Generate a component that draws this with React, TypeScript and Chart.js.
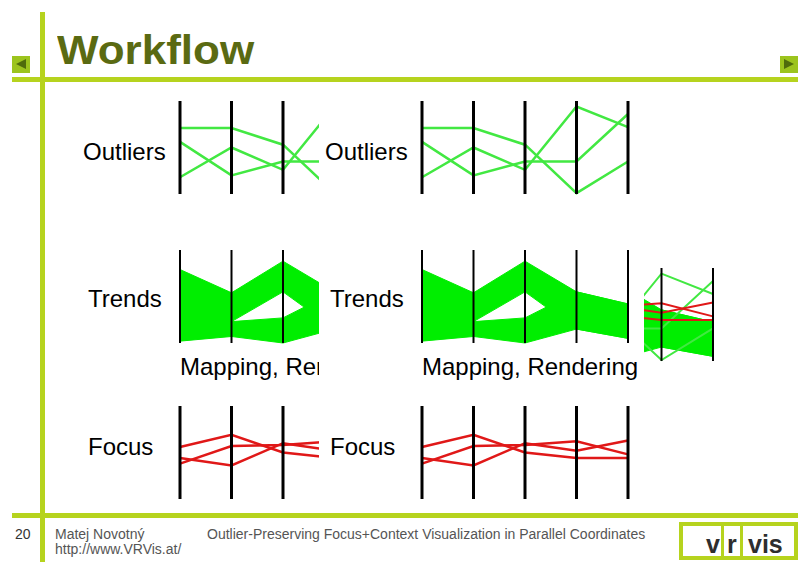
import React, { useEffect, useRef } from "react";
import { Chart, registerables } from "chart.js";
Chart.register(...registerables);

// ---- data: values (0-100) on each parallel axis ----
const axisIndex = [0, 1, 2, 3, 4];
const outlierLine1 = [71, 71, 53, 1, 35];
const outlierLine2 = [56, 20, 35, 35, 86];
const outlierLine3 = [18, 50, 26, 94, 72];
const trendUpperTop = [79, 54, 88, 55, 42];
const trendUpperBottom = [22, 23, 55, 15, 5];
const trendLowerTop = [57, 23, 27, 55, 42];
const trendLowerBottom = [2, 7, 0, 15, 5];
const focusLine1 = [56, 69, 50, 44, 44];
const focusLine2 = [38, 57, 58, 62, 48];
const focusLine3 = [44, 36, 60, 52, 63];

const rowLabels = ["Outliers", "Trends", "Focus"];
const stageLabel = "Mapping, Rendering";
const slideTitle = "Workflow";
const pageNumber = "20";
const authorLines = ["Matej Novotný", "http://www.VRVis.at/"];
const footerTitle = "Outlier-Preserving Focus+Context Visualization in Parallel Coordinates";
const logoParts = ["v", "r", "vis"];

const LIME = "#b6d31e";
const OLIVE = "#5a6a12";
const GREEN_LINE = "#42e842";
const GREEN_FILL = "#00ee00";
const RED = "#e01818";
const FONT = "'Liberation Sans', Arial, Helvetica, sans-serif";

type Layer = "outliers" | "trends" | "focus";

const pts = (vals: number[]) => vals.map((v, i) => ({ x: axisIndex[i], y: v }));

function buildDatasets(layers: Layer[], axisWidth: number, lineWidth: number) {
  const ds: any[] = [];
  axisIndex.forEach((i) =>
    ds.push({ data: [{ x: i, y: 0 }, { x: i, y: 100 }], borderColor: "#000", borderWidth: axisWidth, order: 0, clip: false })
  );
  if (layers.includes("focus")) {
    [focusLine1, focusLine2, focusLine3].forEach((v) =>
      ds.push({ data: pts(v), borderColor: RED, borderWidth: lineWidth, order: 1, clip: false })
    );
  }
  if (layers.includes("outliers")) {
    [outlierLine1, outlierLine2, outlierLine3].forEach((v) =>
      ds.push({ data: pts(v), borderColor: GREEN_LINE, borderWidth: lineWidth, order: 2, clip: false })
    );
  }
  if (layers.includes("trends")) {
    [
      [trendUpperTop, trendUpperBottom],
      [trendLowerTop, trendLowerBottom],
    ].forEach(([t, b]) => {
      ds.push({ data: pts(t), borderColor: GREEN_FILL, borderWidth: 1, backgroundColor: GREEN_FILL, fill: "+1", order: 3, clip: false });
      ds.push({ data: pts(b), borderColor: GREEN_FILL, borderWidth: 1, fill: false, order: 3, clip: false });
    });
  }
  return ds;
}

type PanelProps = {
  axisX: number;
  topY: number;
  spacing: number;
  height: number;
  layers: Layer[];
  axisWidth: number;
  lineWidth?: number;
  clip?: { x: number; y: number; w: number; h: number };
  children?: any;
};

function PCPanel({ axisX, topY, spacing, height, layers, axisWidth, lineWidth = 2.5, clip, children }: PanelProps) {
  const ref = useRef<HTMLCanvasElement>(null);
  const pad = 4;
  const w = Math.round(spacing * 4 + pad * 2);
  const h = Math.round(height + pad * 2);
  useEffect(() => {
    const chart = new Chart(ref.current as HTMLCanvasElement, {
      type: "line",
      data: { datasets: buildDatasets(layers, axisWidth, lineWidth) },
      options: {
        responsive: false,
        animation: false,
        events: [],
        layout: { padding: pad },
        scales: {
          x: { type: "linear", min: 0, max: 4, display: false },
          y: { type: "linear", min: 0, max: 100, display: false },
        },
        plugins: { legend: { display: false }, tooltip: { enabled: false }, title: { display: false } },
        elements: { point: { radius: 0 }, line: { tension: 0, borderCapStyle: "butt" } },
      } as any,
    });
    return () => chart.destroy();
  }, []);
  const c = clip || { x: axisX - pad, y: topY - pad, w, h };
  return (
    <div style={{ position: "absolute", left: c.x, top: c.y, width: c.w, height: c.h, overflow: "hidden" }}>
      <canvas
        ref={ref}
        width={w}
        height={h}
        style={{ position: "absolute", left: axisX - pad - c.x, top: topY - pad - c.y }}
      />
      {children}
    </div>
  );
}

function Txt({ x, base, size, color = "#000", weight = 400, scaleX = 1, children }: any) {
  return (
    <div
      style={{
        position: "absolute",
        left: x,
        top: base - size * 0.8465,
        fontSize: size,
        lineHeight: `${size}px`,
        fontFamily: FONT,
        color,
        fontWeight: weight,
        whiteSpace: "nowrap",
        transform: scaleX !== 1 ? `scaleX(${scaleX})` : undefined,
        transformOrigin: "left top",
      }}
    >
      {children}
    </div>
  );
}

function Box({ x, y, w, h, bg }: any) {
  return <div style={{ position: "absolute", left: x, top: y, width: w, height: h, background: bg }} />;
}

function Arrow({ x, y, dir }: any) {
  return (
    <div style={{ position: "absolute", left: x, top: y, width: 18, height: 17, background: "#9cc41e" }}>
      <div
        style={{
          position: "absolute",
          left: 4,
          top: 3,
          width: 0,
          height: 0,
          borderTop: "5.5px solid transparent",
          borderBottom: "5.5px solid transparent",
          [dir === "left" ? "borderRight" : "borderLeft"]: `10px solid #4f6c0c`,
        }}
      />
    </div>
  );
}

export default function App() {
  const LX = 180.3;
  const RX = 421.7;
  const SP = 51.5;
  const H = 93;
  const leftClip = (y: number, h: number) => ({ x: 170, y, w: 149, h });
  return (
    <div style={{ position: "fixed", left: 0, top: 0, width: 810, height: 570, background: "#fff", overflow: "hidden" }}>
      {/* slide decoration */}
      <Box x={40} y={12} w={5} h={550} bg={LIME} />
      <Box x={12} y={77} w={786} h={5} bg={LIME} />
      <Box x={12} y={513} w={786} h={5} bg={LIME} />
      <Arrow x={12} y={56} dir="left" />
      <Arrow x={780} y={56} dir="right" />
      <Txt x={57} base={64} size={40} weight={700} color={OLIVE} scaleX={1.1}>
        {slideTitle}
      </Txt>

      {/* Outliers row */}
      <PCPanel axisX={LX} topY={101} spacing={SP} height={H} layers={["outliers"]} axisWidth={3} clip={leftClip(90, 115)} />
      <PCPanel axisX={RX} topY={101} spacing={SP} height={H} layers={["outliers"]} axisWidth={3} />
      <Txt x={83} base={160} size={24}>{rowLabels[0]}</Txt>
      <Txt x={325} base={160} size={24}>{rowLabels[0]}</Txt>

      {/* Trends row */}
      <PCPanel axisX={LX} topY={250} spacing={SP} height={H} layers={["trends"]} axisWidth={2} clip={leftClip(240, 150)}>
        <Txt x={180 - 170} base={375 - 240} size={24}>{stageLabel}</Txt>
      </PCPanel>
      <PCPanel axisX={RX} topY={250} spacing={SP} height={H} layers={["trends"]} axisWidth={2} />
      <Txt x={422} base={375} size={24}>{stageLabel}</Txt>
      <Txt x={88} base={307} size={24}>{rowLabels[1]}</Txt>
      <Txt x={330} base={307} size={24}>{rowLabels[1]}</Txt>

      {/* Focus row */}
      <PCPanel axisX={LX} topY={406} spacing={SP} height={H} layers={["focus"]} axisWidth={3} clip={leftClip(398, 110)} />
      <PCPanel axisX={RX} topY={406} spacing={SP} height={H} layers={["focus"]} axisWidth={3} />
      <Txt x={88} base={455} size={24}>{rowLabels[2]}</Txt>
      <Txt x={330} base={455} size={24}>{rowLabels[2]}</Txt>

      {/* composite, partially visible */}
      <PCPanel
        axisX={661 - 3 * SP}
        topY={268}
        spacing={SP}
        height={H}
        layers={["trends", "outliers", "focus"]}
        axisWidth={2}
        lineWidth={2}
        clip={{ x: 644, y: 258, w: 72, h: 110 }}
      />

      {/* footer */}
      <Txt x={15} base={539} size={14} color="#333">{pageNumber}</Txt>
      <Txt x={55} base={539} size={14} color="#555">{authorLines[0]}</Txt>
      <Txt x={55} base={554} size={14} color="#555">{authorLines[1]}</Txt>
      <Txt x={207} base={539} size={14} color="#555">{footerTitle}</Txt>

      {/* logo */}
      <div style={{ position: "absolute", left: 679, top: 522, width: 119, height: 38, border: `4px solid ${LIME}`, boxSizing: "border-box", background: "#fff" }} />
      <Box x={721} y={522} w={3} h={38} bg={LIME} />
      <Box x={740} y={522} w={3} h={38} bg={LIME} />
      <Txt x={706} base={553} size={25} weight={700} color="#2e2e2e">{logoParts[0]}</Txt>
      <Txt x={727} base={553} size={25} weight={700} color="#2e2e2e">{logoParts[1]}</Txt>
      <Txt x={748} base={553} size={25} weight={700} color="#2e2e2e">{logoParts[2]}</Txt>
    </div>
  );
}
